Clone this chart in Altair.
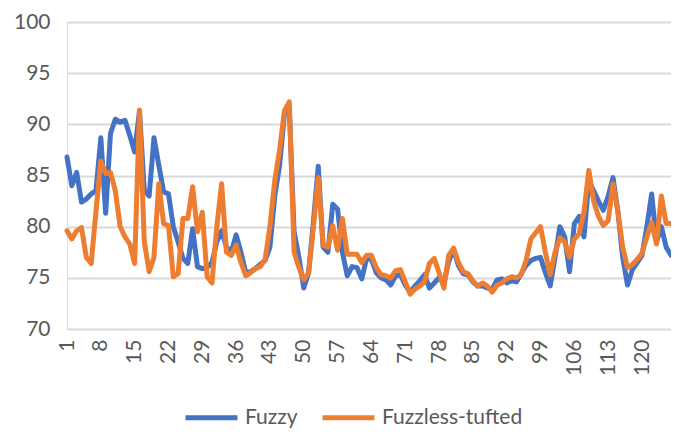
import altair as alt
import pandas as pd

fuzzy = [86.8, 84.0, 85.3, 82.4, 82.7, 83.2, 83.5, 88.7, 81.3, 89.1,
         90.5, 90.2, 90.4, 88.9, 87.3, 91.3, 83.5, 83.0, 88.7, 86.0,
         83.4, 83.2, 80.0, 78.5, 76.9, 76.4, 79.8, 76.1, 75.9, 76.0,
         76.5, 78.5, 79.6, 78.0, 77.5, 79.2, 77.5, 75.5, 75.6, 75.9,
         76.3, 76.7, 78.0, 83.0, 86.0, 91.0, 91.6, 79.5, 77.0, 74.0,
         75.5, 80.5, 85.9, 78.0, 77.5, 82.2, 81.7, 77.5, 75.2, 76.1,
         76.0, 74.9, 76.9, 76.8, 75.5, 75.0, 74.8, 74.3, 75.2, 75.3,
         74.3, 73.6, 74.2, 74.7, 75.3, 74.0, 74.5, 75.0, 74.5, 76.6,
         77.8, 76.2, 75.4, 75.3, 74.6, 74.2, 74.2, 74.0, 73.9, 74.8,
         74.9, 74.5, 74.7, 74.6, 75.4, 76.2, 76.7, 76.9, 77.0, 75.5,
         74.2, 77.0, 80.0, 79.0, 75.6, 80.3, 81.0, 79.0, 84.5, 83.5,
         82.5, 81.6, 83.0, 84.8, 81.5, 77.0, 74.3, 75.8, 76.5, 77.2,
         80.0, 83.2, 78.5, 80.0, 78.0, 77.2]

fuzzless = [79.6, 78.8, 79.6, 79.9, 77.0, 76.4, 81.5, 86.4, 85.2, 85.3,
            83.5, 80.0, 79.0, 78.3, 76.4, 91.4, 78.5, 75.6, 77.0, 84.2,
            80.3, 80.1, 75.1, 75.4, 80.8, 80.8, 83.9, 79.5, 81.4, 75.1,
            74.5, 80.0, 84.2, 77.5, 77.2, 78.2, 76.5, 75.2, 75.5, 75.9,
            76.1, 76.8, 80.0, 84.5, 87.5, 91.3, 92.2, 77.5, 76.0, 74.8,
            75.5, 80.0, 84.8, 78.2, 78.0, 80.1, 77.7, 80.8, 77.3, 77.3,
            77.3, 76.5, 77.2, 77.2, 76.0, 75.3, 75.2, 75.0, 75.7, 75.8,
            74.6, 73.4, 73.9, 74.2, 74.6, 76.4, 76.9, 75.5, 74.0, 77.2,
            77.9, 76.5, 75.6, 75.4, 74.7, 74.2, 74.5, 74.2, 73.6, 74.3,
            74.5, 74.9, 75.1, 75.0, 75.3, 76.7, 78.8, 79.4, 80.0, 77.5,
            75.3, 77.5, 78.9, 78.5, 77.0, 78.8, 79.3, 81.5, 85.5, 82.5,
            81.0, 80.1, 80.6, 84.2, 81.5, 78.0, 76.0, 76.3, 76.8, 77.4,
            79.0, 80.4, 78.3, 83.0, 80.3, 80.3]

series_names = ["Fuzzy", "Fuzzless-tufted"]
series_colors = ["#4472C4", "#ED7D31"]
x_ticks = [1, 8, 15, 22, 29, 36, 43, 50, 57, 64, 71, 78, 85, 92, 99, 106, 113, 120]
y_ticks = [70, 75, 80, 85, 90, 95, 100]

n = len(fuzzy)
df = pd.DataFrame({
    "idx": list(range(1, n + 1)) * 2,
    "value": fuzzy + fuzzless,
    "series": [series_names[0]] * n + [series_names[1]] * n,
})

FONT = "Lato"
GREY = "#595959"

base = alt.Chart(df).mark_line(strokeWidth=5, strokeJoin="round", strokeCap="round").encode(
    x=alt.X("idx:Q",
            scale=alt.Scale(domain=[1, n], nice=False, zero=False),
            axis=alt.Axis(values=x_ticks, labelAngle=270, labelAlign="right",
                          labelBaseline="middle", labelPadding=10, grid=False,
                          domain=False, ticks=False, title=None,
                          labelFont=FONT, labelFontSize=21, labelColor=GREY,
                          labelOverlap=False)),
    y=alt.Y("value:Q",
            scale=alt.Scale(domain=[70, 100], nice=False, zero=False),
            axis=alt.Axis(values=y_ticks, grid=True, gridColor="#D9D9D9", gridWidth=2,
                          domain=False, ticks=False, title=None, labelPadding=17,
                          labelFont=FONT, labelFontSize=21, labelColor=GREY)),
    color=alt.Color("series:N",
                    scale=alt.Scale(domain=series_names, range=series_colors),
                    legend=alt.Legend(title=None, orient="none", direction="horizontal",
                                      legendX=116, legendY=367, columns=2,
                                      symbolType="stroke", symbolSize=2700,
                                      symbolStrokeWidth=5, labelFont=FONT,
                                      labelFontSize=21, labelColor=GREY,
                                      labelOffset=5, columnPadding=14, padding=0)),
)

chart = alt.layer(
    base.transform_filter(alt.datum.series == series_names[0]),
    base.transform_filter(alt.datum.series == series_names[1]),
).properties(
    width=604, height=307,
    autosize=alt.AutoSizeParams(type="none"),
    padding={"left": 59, "top": 14, "right": 0, "bottom": 100},
).configure_view(stroke=None).configure(background="white")

chart.save("out.html", embed_options={"renderer": "svg", "actions": False})
